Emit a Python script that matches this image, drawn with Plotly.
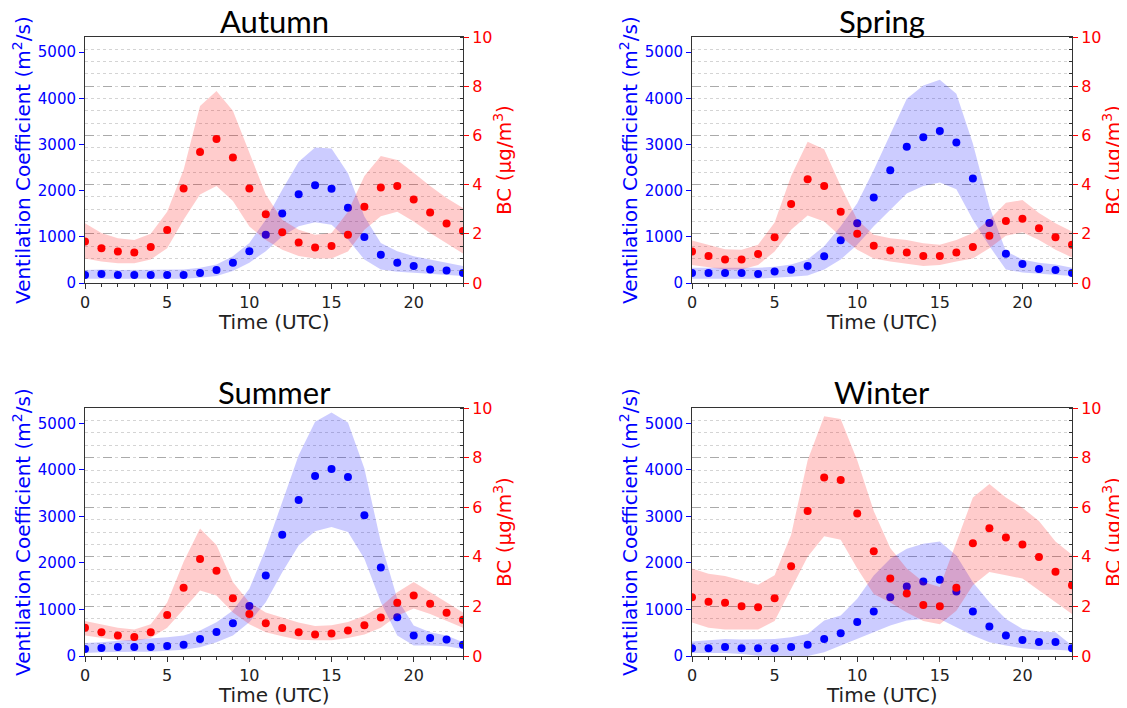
import plotly.graph_objects as go

hours = list(range(24))
seasons = ["Autumn", "Spring", "Summer", "Winter"]

# Ventilation coefficient (m2/s): mean, upper, lower; BC (ug/m3): mean, upper, lower
autumn_vc = [172,194,172,172,172,172,172,215,280,438,690,1048,1508,1924,2118,2040,1630,998,610,438,366,294,273,215]
autumn_vc_hi = [280,294,280,280,280,294,294,330,402,582,869,1371,2018,2628,2937,2915,2377,1443,869,690,582,510,438,366]
autumn_vc_lo = [93,93,93,93,93,93,93,115,151,258,438,690,1012,1228,1314,1264,941,510,294,244,223,201,180,151]
autumn_bc = [1.69,1.41,1.28,1.24,1.46,2.15,3.84,5.33,5.85,5.10,3.84,2.79,2.06,1.65,1.44,1.50,1.96,3.10,3.88,3.94,3.39,2.87,2.42,2.11]
autumn_bc_hi = [2.43,2.03,1.82,1.75,2.0,2.9,4.6,7.2,7.8,7.0,5.3,3.6,2.57,2.16,1.96,2.03,2.9,4.35,5.16,5.0,4.48,3.94,3.46,3.05]
autumn_bc_lo = [1.0,0.87,0.8,0.8,0.96,1.41,2.57,3.6,3.94,3.33,2.3,1.75,1.35,1.1,1.0,1.0,1.28,2.16,2.71,2.9,2.5,2.03,1.62,1.2]

spring_vc = [215,215,215,215,194,251,287,366,582,926,1292,1853,2441,2951,3159,3296,3045,2262,1300,632,409,302,280,215]
spring_vc_hi = [330,330,330,330,330,352,402,510,797,1228,1730,2449,3239,3993,4280,4402,4100,3023,1659,690,510,438,402,330]
spring_vc_lo = [93,93,93,93,93,115,136,165,294,510,830,1230,1580,1940,2100,2180,2030,1370,800,290,230,200,180,150]
spring_bc = [1.28,1.10,0.96,0.96,1.18,1.86,3.21,4.22,3.94,2.90,2.0,1.51,1.32,1.24,1.10,1.10,1.24,1.46,1.92,2.52,2.61,2.23,1.86,1.55]
spring_bc_hi = [1.73,1.55,1.37,1.35,1.55,2.46,4.35,5.74,5.44,3.94,2.57,1.96,1.82,1.75,1.62,1.55,1.75,2.03,2.57,3.26,3.37,2.85,2.43,2.09]
spring_bc_lo = [0.73,0.64,0.55,0.55,0.73,1.28,2.16,2.74,2.50,1.89,1.35,1.0,0.87,0.77,0.69,0.73,0.87,1.0,1.41,1.92,2.06,1.75,1.35,1.04]

summer_vc = [151,172,194,194,194,215,244,366,517,704,1077,1730,2606,3353,3870,4021,3849,3023,1903,833,438,388,352,244]
summer_vc_hi = [280,294,330,352,366,402,438,546,725,977,1443,2305,3311,4316,5034,5235,5020,4029,2449,1228,654,510,438,294]
summer_vc_lo = [65,79,93,93,93,115,136,187,294,438,725,1156,1802,2377,2679,2772,2664,2090,1156,438,223,223,208,151]
summer_bc = [1.14,0.96,0.83,0.77,0.96,1.65,2.75,3.91,3.44,2.33,1.69,1.32,1.13,0.96,0.87,0.91,1.03,1.24,1.55,2.15,2.44,2.11,1.74,1.46]
summer_bc_hi = [1.41,1.28,1.14,1.07,1.28,2.16,3.80,5.14,4.48,2.98,2.16,1.75,1.55,1.35,1.21,1.24,1.37,1.62,2.0,2.57,2.98,2.57,2.16,1.75]
summer_bc_lo = [0.83,0.73,0.64,0.60,0.73,1.14,1.89,2.64,2.44,1.75,1.28,0.96,0.80,0.66,0.64,0.64,0.73,0.87,1.14,1.62,1.92,1.69,1.41,1.14]

winter_vc = [165,165,194,165,165,165,194,244,366,488,732,955,1264,1494,1601,1637,1386,955,632,438,345,302,302,165]
winter_vc_hi = [309,330,366,352,352,366,402,474,761,869,1228,1730,2090,2305,2413,2463,2161,1587,1156,797,582,524,510,223]
winter_vc_lo = [65,65,65,43,7,7,0,0,79,223,366,510,654,761,797,797,617,438,294,223,165,136,136,115]
winter_bc = [2.37,2.19,2.15,2.01,1.97,2.33,3.62,5.85,7.20,7.10,5.75,4.22,3.13,2.52,2.06,2.01,2.75,4.55,5.15,4.78,4.50,3.99,3.40,2.85]
winter_bc_hi = [3.53,3.32,3.23,3.05,2.87,3.26,4.89,7.89,9.67,9.56,7.89,5.85,4.35,3.53,2.98,2.78,4.62,6.39,6.94,6.39,5.98,5.44,4.62,4.08]
winter_bc_lo = [1.35,1.14,1.07,1.07,1.07,1.41,2.71,4.0,4.83,4.69,3.53,2.50,2.16,1.75,1.41,1.28,1.82,2.85,3.39,3.26,3.12,2.64,2.16,1.69]

data = {
    "Autumn": (autumn_vc, autumn_vc_hi, autumn_vc_lo, autumn_bc, autumn_bc_hi, autumn_bc_lo),
    "Spring": (spring_vc, spring_vc_hi, spring_vc_lo, spring_bc, spring_bc_hi, spring_bc_lo),
    "Summer": (summer_vc, summer_vc_hi, summer_vc_lo, summer_bc, summer_bc_hi, summer_bc_lo),
    "Winter": (winter_vc, winter_vc_hi, winter_vc_lo, winter_bc, winter_bc_hi, winter_bc_lo),
}

# the page body adds an 8px margin, so the figure is drawn 8px in from the window edge
OFF = 8
W, H = 1127 - OFF, 708 - OFF
# pixel boxes in window coordinates: left, right, top, bottom
boxes = [(85, 463, 37, 283), (692, 1072, 37, 283), (85, 463, 408, 656), (692, 1072, 408, 656)]


def px(xp):
    return (xp - OFF) / W


def py(yp):
    return 1 - (yp - OFF) / H


BLUE = "#0000ff"
RED = "#ff0000"
FONT = "DejaVu Sans"

fig = go.Figure()
layout = {}
annotations = []
for i, s in enumerate(seasons):
    vc, vch, vcl, bc, bch, bcl = data[s]
    l, r, t, b = boxes[i]
    xn = "" if i == 0 else str(i + 1)
    y1n = "" if i == 0 else str(2 * i + 1)
    y2n = str(2 * i + 2)
    xref, y1ref, y2ref = "x" + xn, "y" + y1n, "y" + y2n
    fig.add_trace(go.Scatter(x=hours + hours[::-1], y=vch + vcl[::-1], fill="toself",
                             fillcolor="rgba(0,0,255,0.2)", line=dict(width=0), mode="lines",
                             hoverinfo="skip", showlegend=False, xaxis=xref, yaxis=y1ref))
    fig.add_trace(go.Scatter(x=hours, y=vc, mode="markers", marker=dict(color=BLUE, size=8),
                             showlegend=False, xaxis=xref, yaxis=y1ref))
    fig.add_trace(go.Scatter(x=hours + hours[::-1], y=bch + bcl[::-1], fill="toself",
                             fillcolor="rgba(255,0,0,0.2)", line=dict(width=0), mode="lines",
                             hoverinfo="skip", showlegend=False, xaxis=xref, yaxis=y2ref))
    fig.add_trace(go.Scatter(x=hours, y=bc, mode="markers", marker=dict(color=RED, size=8),
                             showlegend=False, xaxis=xref, yaxis=y2ref))

    layout["xaxis" + xn] = dict(
        domain=[px(l), px(r)], anchor=y1ref, range=[0, 23], tickvals=[0, 5, 10, 15, 20],
        ticks="outside", ticklen=5, tickcolor="#333", showgrid=False, zeroline=False,
        showline=True, linecolor="#333", linewidth=1, mirror=True, automargin=False,
        minor=dict(dtick=1, ticks="outside", ticklen=3, tickcolor="#333", showgrid=False),
        tickfont=dict(family=FONT, size=16, color="#222"),
    )
    layout["yaxis" + y1n] = dict(
        domain=[py(b), py(t)], anchor=xref, range=[0, 5330], tickvals=[0, 1000, 2000, 3000, 4000, 5000],
        ticks="outside", ticklen=5, tickcolor=BLUE, showgrid=False, zeroline=False,
        showline=True, linecolor="#333", linewidth=1, automargin=False,
        tickfont=dict(family=FONT, size=15, color=BLUE),
    )
    layout["yaxis" + y2n] = dict(
        overlaying=y1ref, anchor=xref, side="right", range=[0, 10], tickvals=[0, 2, 4, 6, 8, 10],
        ticks="outside", ticklen=5, tickcolor=RED, showgrid=True, gridcolor="#aaaaaa",
        griddash="dash", gridwidth=1, zeroline=False, automargin=False,
        showline=True, linecolor="#333", linewidth=1,
        minor=dict(dtick=0.5, ticks="inside", ticklen=3, tickcolor="#333", showgrid=True,
                   gridcolor="#d4d4d4", griddash="dot", gridwidth=1),
        tickfont=dict(family=FONT, size=16, color=RED),
    )
    annotations.append(dict(text=s, x=px((l + r) / 2), y=py(t - 16),
                            xref="paper", yref="paper", showarrow=False, xanchor="center", yanchor="middle",
                            font=dict(family="Lato", size=31, color="black")))
    annotations.append(dict(text="Time (UTC)", x=px((l + r) / 2), y=py(b + 39),
                            xref="paper", yref="paper", showarrow=False, xanchor="center", yanchor="middle",
                            font=dict(family=FONT, size=20, color="#222")))
    annotations.append(dict(text="Ventilation Coefficient (m<sup>2</sup>/s)", x=px(l - 63), y=py((t + b) / 2),
                            xref="paper", yref="paper", showarrow=False, textangle=-90,
                            xanchor="center", yanchor="middle", font=dict(family=FONT, size=20, color=BLUE)))
    annotations.append(dict(text="BC (µg/m<sup>3</sup>)", x=px(r + 40), y=py((t + b) / 2),
                            xref="paper", yref="paper", showarrow=False, textangle=-90,
                            xanchor="center", yanchor="middle", font=dict(family=FONT, size=20, color=RED)))

fig.update_layout(
    width=W, height=H, margin=dict(l=0, r=0, t=0, b=0, autoexpand=False),
    paper_bgcolor="white", plot_bgcolor="white", showlegend=False,
    annotations=annotations, **layout,
)
fig.write_html("out.html")
